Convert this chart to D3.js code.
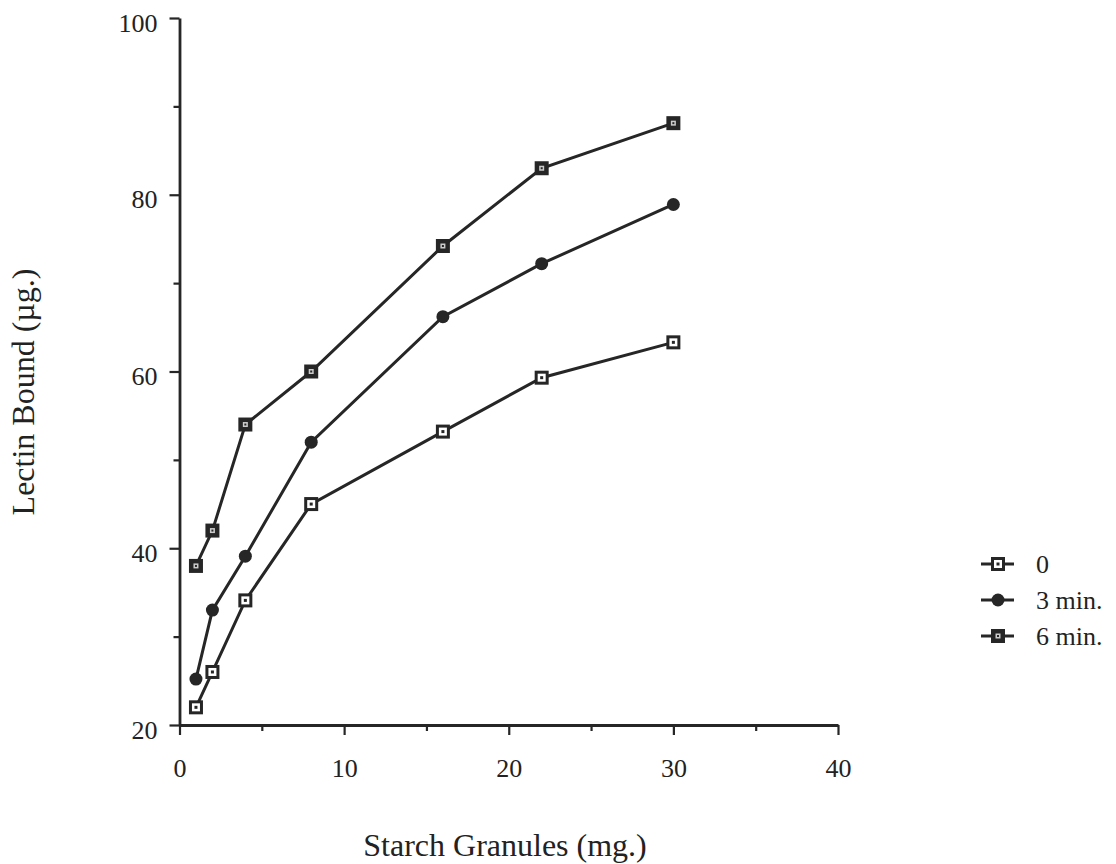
<!DOCTYPE html>
<html><head><meta charset="utf-8">
<script src="https://cdn.jsdelivr.net/npm/d3@7"></script>
<style>body{margin:0;background:#fff;} text{font-family:"Liberation Serif","Times New Roman",serif;fill:#222;}</style>
</head><body>
<svg id="c" width="1116" height="864"></svg>
<script>
const xValues = [1, 2, 4, 8, 16, 22, 30];
const series0 = [22.0, 26.0, 34.1, 45.0, 53.2, 59.3, 63.3];
const series3 = [25.2, 33.0, 39.1, 52.0, 66.2, 72.2, 78.9];
const series6 = [38.0, 42.0, 54.0, 60.0, 74.2, 83.0, 88.1];
const seriesNames = ["0", "3 min.", "6 min."];
const xTicks = [0, 10, 20, 30, 40];
const yTicks = [20, 40, 60, 80, 100];

const svg = d3.select("#c");
const col = "#262626";
const x = d3.scaleLinear().domain([0, 40]).range([179.5, 838]);
const y = d3.scaleLinear().domain([20, 100]).range([725, 18]);

// axes
const xAxis = d3.axisBottom(x).tickValues(d3.range(0, 41, 5)).tickSize(0).tickFormat("");
const gx = svg.append("g").attr("transform", `translate(0,${y(20)})`).call(xAxis);
gx.select(".domain").attr("stroke", col).attr("stroke-width", 2.8);
gx.selectAll(".tick line").remove();
gx.selectAll(".tick").append("line").attr("y1", 0).attr("y2", d => d % 10 === 0 ? 10 : 6).attr("stroke", col).attr("stroke-width", 2.2);
gx.selectAll(".tick").filter(d => xTicks.includes(d)).append("text")
  .attr("y", 52).attr("text-anchor", "middle").style("font-size", "26px").text(d => d);

const yAxis = d3.axisLeft(y).tickValues(d3.range(20, 101, 10)).tickSize(0).tickFormat("");
const gy = svg.append("g").attr("transform", `translate(${x(0)},0)`).call(yAxis);
gy.select(".domain").attr("stroke", col).attr("stroke-width", 2.8);
gy.selectAll(".tick line").remove();
gy.selectAll(".tick").append("line").attr("x1", 0).attr("x2", d => d % 20 === 0 ? -10 : -6).attr("stroke", col).attr("stroke-width", 2.2);
gy.selectAll(".tick").filter(d => yTicks.includes(d)).append("text")
  .attr("x", -22).attr("y", 13).attr("text-anchor", "end").style("font-size", "26px").text(d => d);

svg.append("text").attr("transform", "translate(34,392) rotate(-90)").attr("text-anchor", "middle")
  .style("font-size", "32px").text("Lectin Bound (µg.)");
svg.append("text").attr("x", 505).attr("y", 856).attr("text-anchor", "middle")
  .style("font-size", "32px").text("Starch Granules (mg.)");

const line = d3.line().x((d, i) => x(xValues[i])).y(d => y(d));
const allSeries = [series0, series3, series6];

function marker(g, type) {
  if (type === 0) {
    g.append("rect").attr("x", -5.5).attr("y", -5.5).attr("width", 11).attr("height", 11).attr("fill", "#fff").attr("stroke", col).attr("stroke-width", 3);
    g.append("rect").attr("x", -1.5).attr("y", -1.5).attr("width", 3).attr("height", 3).attr("fill", col);
  } else if (type === 1) {
    g.append("circle").attr("r", 6.5).attr("fill", col);
  } else {
    g.append("rect").attr("x", -7).attr("y", -7).attr("width", 14).attr("height", 14).attr("fill", col);
    g.append("rect").attr("x", -2.5).attr("y", -2.5).attr("width", 5).attr("height", 5).attr("fill", "#ccc");
    g.append("rect").attr("x", -1).attr("y", -1).attr("width", 2).attr("height", 2).attr("fill", col);
  }
}

allSeries.forEach((s, k) => {
  svg.append("path").datum(s).attr("d", line).attr("fill", "none").attr("stroke", col).attr("stroke-width", 3);
  s.forEach((v, i) => {
    const g = svg.append("g").attr("transform", `translate(${x(xValues[i])},${y(v)})`);
    marker(g, k);
  });
});

// legend
seriesNames.forEach((name, k) => {
  const ly = 564 + k * 36;
  svg.append("line").attr("x1", 981).attr("x2", 1014).attr("y1", ly).attr("y2", ly).attr("stroke", col).attr("stroke-width", 3);
  const g = svg.append("g").attr("transform", `translate(998,${ly})`);
  marker(g, k);
  svg.append("text").attr("x", 1036).attr("y", ly).attr("dy", "0.35em").style("font-size", "26px").text(name);
});
</script>
</body></html>
